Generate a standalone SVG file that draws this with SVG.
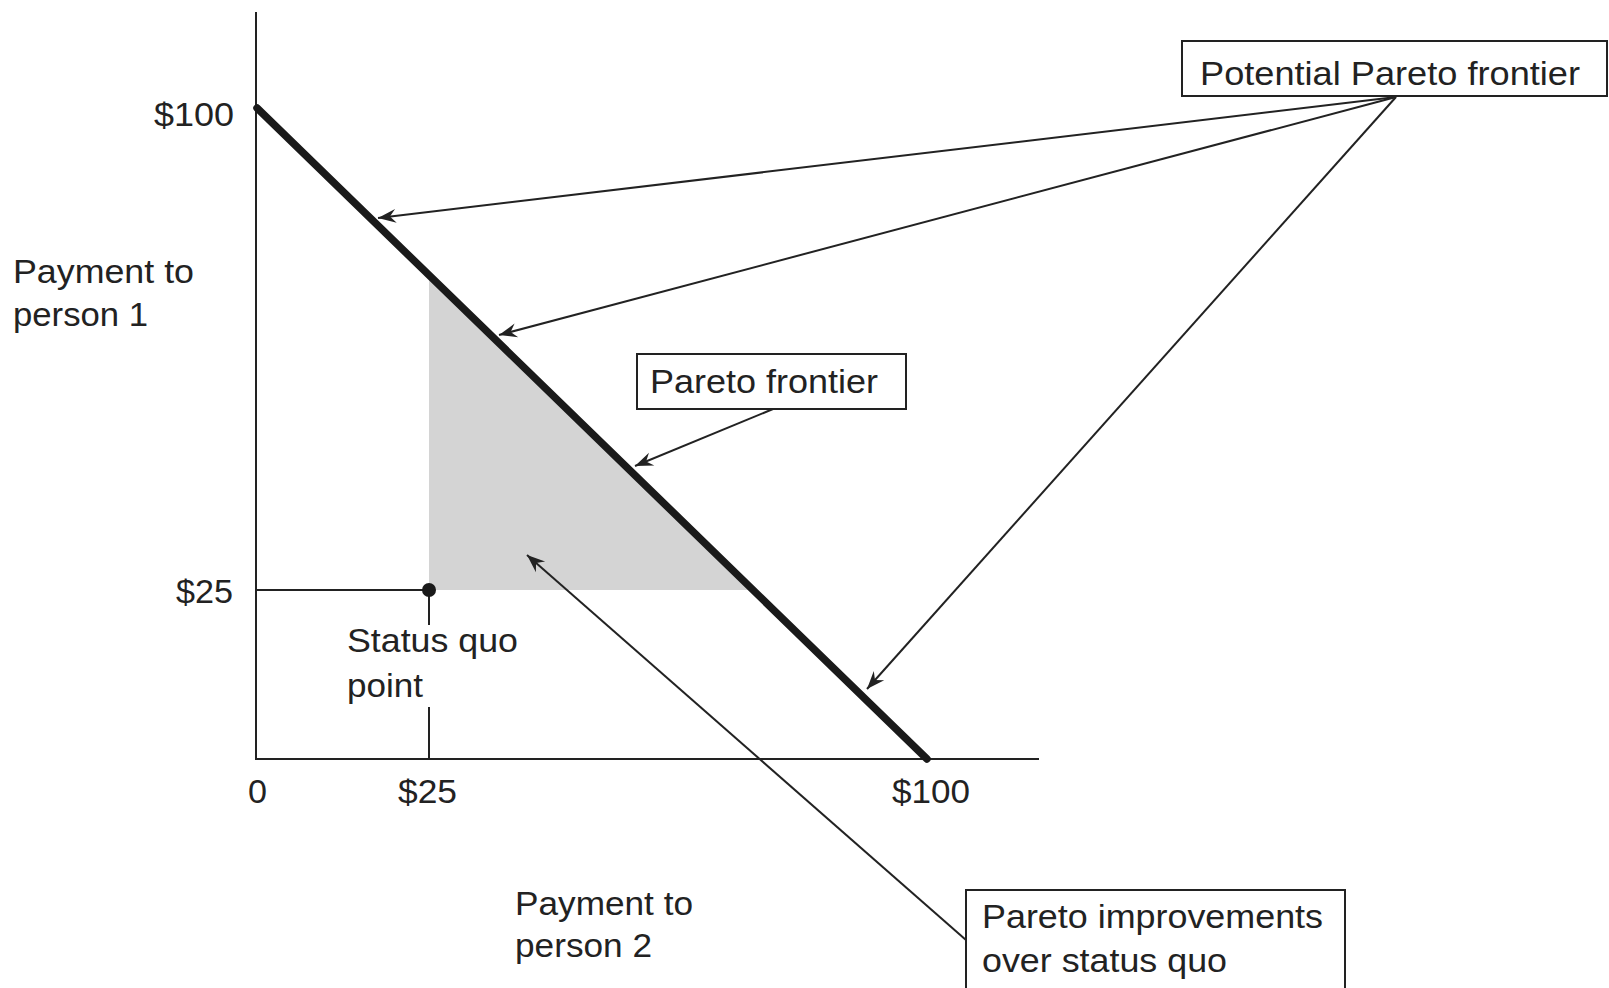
<svg xmlns="http://www.w3.org/2000/svg" width="1609" height="988" viewBox="0 0 1609 988">
<style>
text { font-family: "Liberation Sans", Arial, Helvetica, sans-serif; font-size: 34px; fill: #222; }
.ln { stroke: #222; stroke-width: 2; fill: none; }
.box { stroke: #222; stroke-width: 2; fill: #fff; }
.arr { stroke: #222; stroke-width: 2; fill: none; marker-end: url(#ah); }
</style>
<defs>
<marker id="ah" markerUnits="userSpaceOnUse" markerWidth="24" markerHeight="16" viewBox="-20 -8 24 16" refX="0" refY="0" orient="auto">
<path d="M0,0 L-18,-7 L-12,0 L-18,7 Z" fill="#222"/>
</marker>
</defs>
<rect width="1609" height="988" fill="#fff"/>
<g id="region">
<polygon points="429,275 429,590 753,590" fill="#d4d4d4"/>
</g>
<g id="axes">
<line class="ln" x1="256" y1="12" x2="256" y2="760"/>
<line class="ln" x1="255" y1="759" x2="1039" y2="759"/>
<line class="ln" x1="256" y1="590" x2="429" y2="590"/>
<line class="ln" x1="429" y1="590" x2="429" y2="625"/>
<line class="ln" x1="429" y1="707" x2="429" y2="759"/>
<text x="154" y="126" textLength="80" lengthAdjust="spacingAndGlyphs">$100</text>
<text x="176" y="603" textLength="57" lengthAdjust="spacingAndGlyphs">$25</text>
<text x="248" y="803" textLength="19" lengthAdjust="spacingAndGlyphs">0</text>
<text x="398" y="803" textLength="59" lengthAdjust="spacingAndGlyphs">$25</text>
<text x="892" y="803" textLength="78" lengthAdjust="spacingAndGlyphs">$100</text>
</g>
<g id="ylabel">
<text x="13" y="283" textLength="181" lengthAdjust="spacingAndGlyphs">Payment to</text>
<text x="13" y="326" textLength="135" lengthAdjust="spacingAndGlyphs">person 1</text>
</g>
<g id="xlabel">
<text x="515" y="915" textLength="178" lengthAdjust="spacingAndGlyphs">Payment to</text>
<text x="515" y="957" textLength="137" lengthAdjust="spacingAndGlyphs">person 2</text>
</g>
<g id="frontier-line">
<line x1="257" y1="108" x2="927" y2="759" stroke="#1a1a1a" stroke-width="7.5" stroke-linecap="round"/>
</g>
<g id="status-quo">
<circle cx="429" cy="590" r="7" fill="#1a1a1a"/>
<text x="347" y="652" textLength="171" lengthAdjust="spacingAndGlyphs">Status quo</text>
<text x="347" y="697" textLength="76" lengthAdjust="spacingAndGlyphs">point</text>
</g>
<g id="connectors">
<line class="arr" x1="1396" y1="97" x2="378" y2="218"/>
<line class="arr" x1="1396" y1="97" x2="499" y2="335"/>
<line class="arr" x1="1396" y1="97" x2="867" y2="689"/>
<line class="arr" x1="773" y1="409" x2="635" y2="466"/>
<line class="arr" x1="966" y1="940" x2="527" y2="555"/>
</g>
<g id="potential-pareto-frontier">
<rect class="box" x="1182" y="41" width="425" height="55"/>
<text x="1200" y="85" textLength="380" lengthAdjust="spacingAndGlyphs">Potential Pareto frontier</text>
</g>
<g id="pareto-frontier">
<rect class="box" x="637" y="354" width="269" height="55"/>
<text x="650" y="393" textLength="228" lengthAdjust="spacingAndGlyphs">Pareto frontier</text>
</g>
<g id="pareto-improvements">
<rect class="box" x="966" y="890" width="379" height="120"/>
<text x="982" y="928" textLength="341" lengthAdjust="spacingAndGlyphs">Pareto improvements</text>
<text x="982" y="972" textLength="245" lengthAdjust="spacingAndGlyphs">over status quo</text>
</g>
</svg>
